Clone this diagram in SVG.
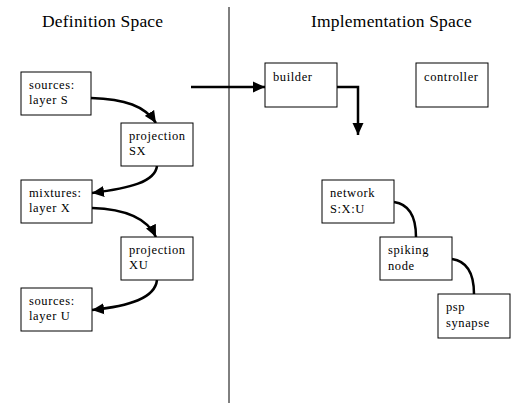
<svg xmlns="http://www.w3.org/2000/svg" width="531" height="414" viewBox="0 0 531 414">
<defs>
<style>
.box{fill:#fff;stroke:#000;stroke-width:1}
.t{font-family:"Liberation Serif",serif;font-size:12.5px;letter-spacing:0.6px;fill:#000}
.title{font-family:"Liberation Serif",serif;font-size:17.5px;letter-spacing:0.2px;fill:#000}
.c{fill:none;stroke:#000;stroke-width:2.5}
</style>
<marker id="ah" markerUnits="userSpaceOnUse" markerWidth="12" markerHeight="12" viewBox="0 0 12 12" refX="12" refY="6" orient="auto">
<path d="M0,0.5 L12,6 L0,11.5 Z" fill="#000"/>
</marker>
</defs>
<rect width="531" height="414" fill="#fff"/>
<line x1="229" y1="7" x2="229" y2="403" stroke="#000" stroke-width="1"/>
<text class="title" x="42" y="27">Definition Space</text>
<text class="title" x="311" y="27">Implementation Space</text>
<g id="connectors">
<path class="c" d="M91,98 C125,99 145,106 156,123" marker-end="url(#ah)"/>
<path class="c" d="M157,166 C155,182 130,188 92,193" marker-end="url(#ah)"/>
<path class="c" d="M92,208 C125,209 147,218 156,237" marker-end="url(#ah)"/>
<path class="c" d="M157,280 C155,298 130,306 92,310" marker-end="url(#ah)"/>
<path class="c" d="M191,87 L265,87" marker-end="url(#ah)"/>
<path class="c" d="M337,87 L358,87 L358,135" marker-end="url(#ah)"/>
<path class="c" d="M394,202 C408,204 416,214 416,237"/>
<path class="c" d="M452,259 C466,261 474,272 474,294"/>
</g>
<g id="sourcesS"><rect class="box" x="21" y="72" width="70" height="43"/><text class="t" x="29" y="89">sources:</text><text class="t" x="29" y="104">layer S</text></g>
<g id="projSX"><rect class="box" x="121" y="123" width="72" height="43"/><text class="t" x="129" y="140">projection</text><text class="t" x="129" y="155">SX</text></g>
<g id="mixturesX"><rect class="box" x="21" y="180" width="71" height="43"/><text class="t" x="29" y="197">mixtures:</text><text class="t" x="29" y="212">layer X</text></g>
<g id="projXU"><rect class="box" x="121" y="237" width="72" height="43"/><text class="t" x="129" y="254">projection</text><text class="t" x="129" y="269">XU</text></g>
<g id="sourcesU"><rect class="box" x="21" y="288" width="71" height="43"/><text class="t" x="29" y="305">sources:</text><text class="t" x="29" y="320">layer U</text></g>
<g id="builder"><rect class="box" x="265" y="63" width="72" height="44"/><text class="t" x="273" y="81">builder</text></g>
<g id="controller"><rect class="box" x="416" y="63" width="72" height="44"/><text class="t" x="424" y="81">controller</text></g>
<g id="network"><rect class="box" x="322" y="180" width="72" height="43"/><text class="t" x="330" y="197">network</text><text class="t" x="330" y="213">S:X:U</text></g>
<g id="spiking"><rect class="box" x="380" y="237" width="72" height="43"/><text class="t" x="388" y="254">spiking</text><text class="t" x="388" y="270">node</text></g>
<g id="psp"><rect class="box" x="438" y="294" width="72" height="44"/><text class="t" x="446" y="311">psp</text><text class="t" x="446" y="327">synapse</text></g>
</svg>
